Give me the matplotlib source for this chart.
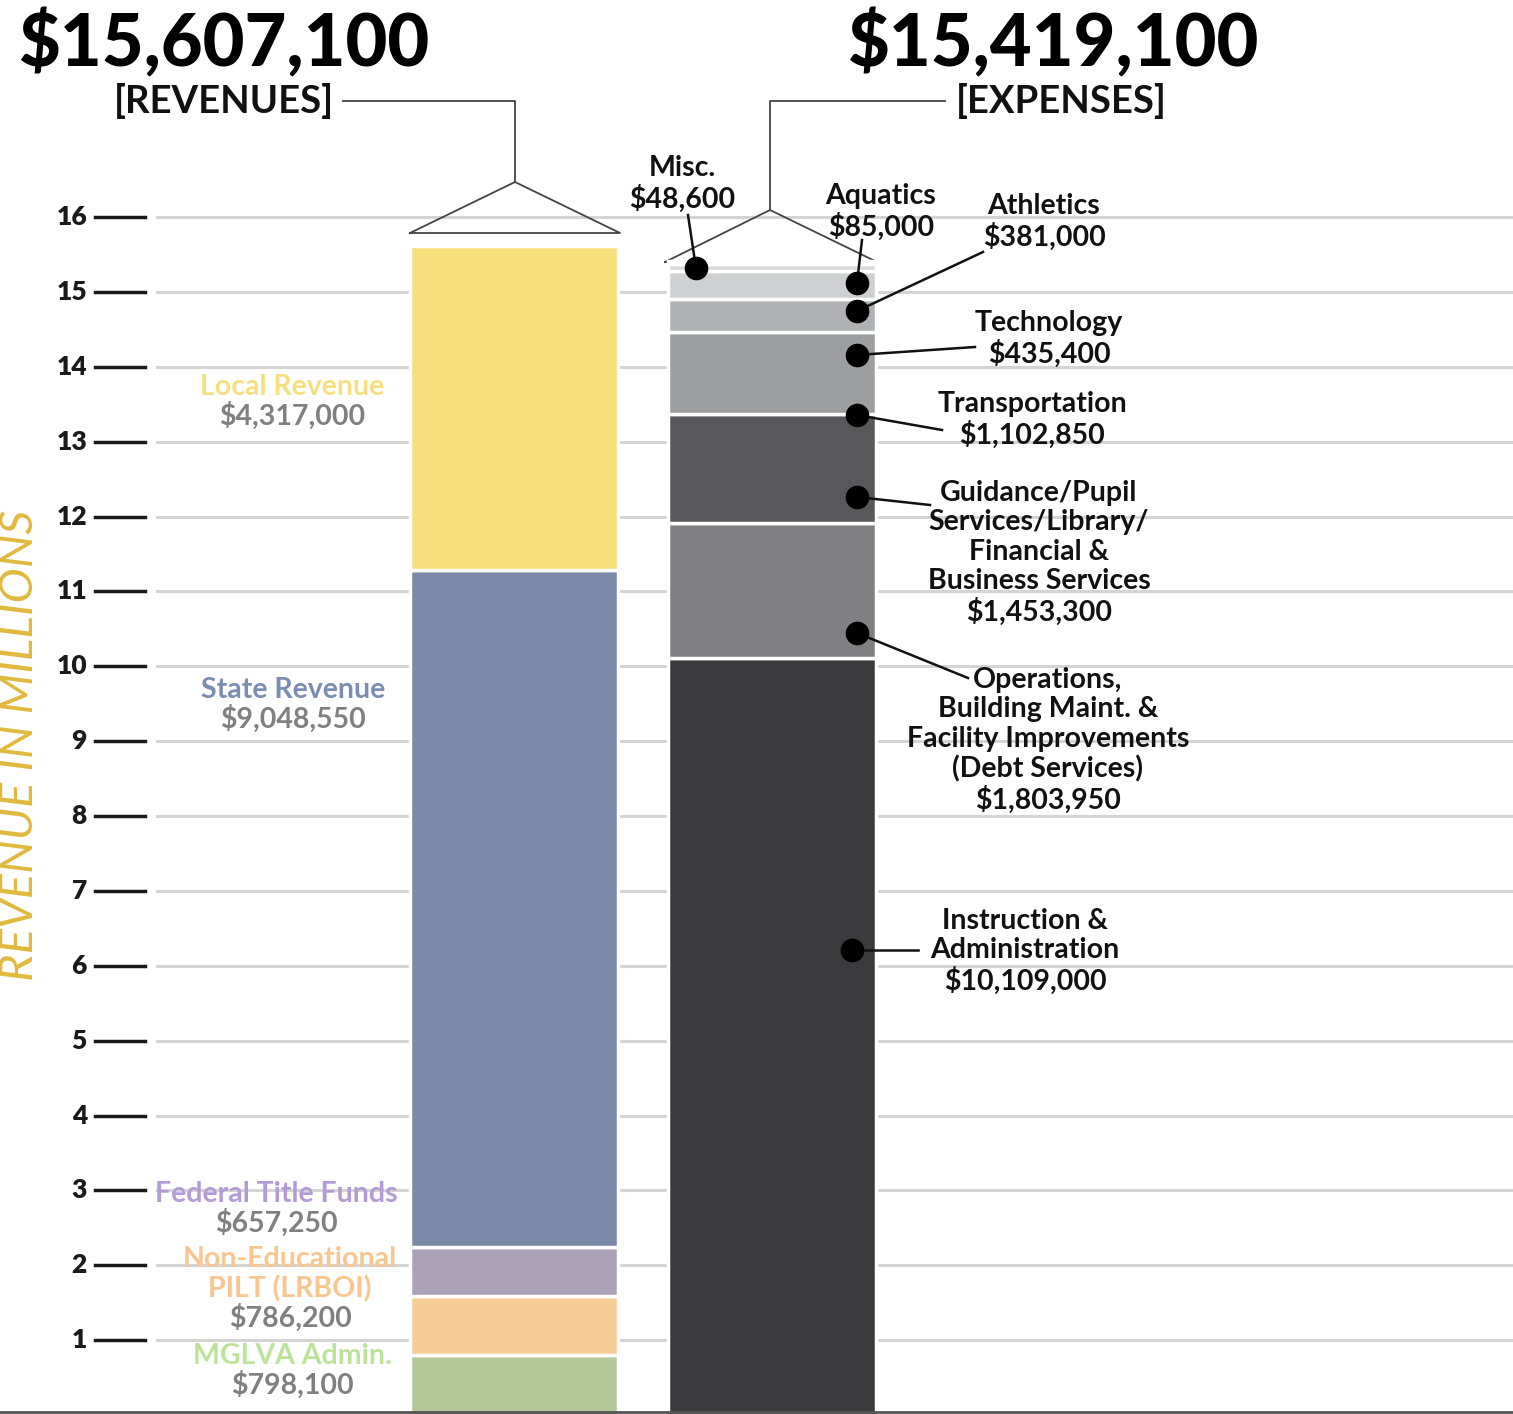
import numpy as np
import matplotlib.pyplot as plt

# Revenue pieces, bottom to top (dollars)
rev_names = ["MGLVA Admin.", "Non-Educational\nPILT (LRBOI)", "Federal Title Funds",
             "State Revenue", "Local Revenue"]
rev_values = [798100, 786200, 657250, 9048550, 4317000]
rev_labels = ["$798,100", "$786,200", "$657,250", "$9,048,550", "$4,317,000"]

# Expense pieces, bottom to top (dollars)
exp_names = ["Instruction &\nAdministration",
             "Operations,\nBuilding Maint. &\nFacility Improvements\n(Debt Services)",
             "Guidance/Pupil\nServices/Library/\nFinancial &\nBusiness Services",
             "Transportation", "Technology", "Athletics", "Aquatics", "Misc."]
exp_values = [10109000, 1803950, 1453300, 1102850, 435400, 381000, 85000, 48600]
exp_labels = ["$10,109,000", "$1,803,950", "$1,453,300", "$1,102,850",
              "$435,400", "$381,000", "$85,000", "$48,600"]

rev_total = "$15,607,100"
exp_total = "$15,419,100"
yticks = list(range(1, 17))

# styling
rev_colors = ["#b3c799", "#f6cc97", "#aca2b7", "#7a8aa8", "#f5df7c"]
rev_name_colors = ["#bde39a", "#f8c68e", "#b39bd6", "#7b8eb1", "#f6df7f"]
exp_colors = ["#3a3a3c", "#808083", "#58585a", "#9d9ea0", "#b0b1b3",
              "#cfd0d2", "#d8d9da", "#e6e6e7"]

W, H = 1513, 1414
S = 74.87          # pixels per million
Y0 = 1415          # pixel row of zero


def v(py):
    # pixel row -> value in millions
    return (Y0 - py) / S


plt.rcParams['font.family'] = ['Lato', 'DejaVu Sans']
fig = plt.figure(figsize=(W / 100, H / 100), dpi=100)
ax = fig.add_axes([0, 0, 1, 1])
ax.set_xlim(0, W)
ax.set_ylim(v(H), v(0))
ax.axis("off")

# grid + ticks
for t in yticks:
    ax.plot([157, W], [t, t], color="#d4d4d4", lw=2.2, zorder=1)
    ax.plot([95, 145], [t, t], color="#1a1a1a", lw=2.5, zorder=1)
    ax.text(87, t, str(t), ha="right", va="center", fontsize=19,
            fontweight="heavy", color="#1a1a1a")
ax.plot([0, W], [v(1412), v(1412)], color="#555555", lw=2, zorder=5)

ax.text(20, v(745), "REVENUE IN MILLIONS", rotation=90, ha="center", va="center",
        fontsize=34, fontstyle="italic", fontweight="normal", color="#e2b93e")

# stacked bars
bw = 208
rx, ex = 514, 772
ax.bar([rx] * len(rev_values), np.array(rev_values) / 1e6, width=bw,
       bottom=np.concatenate([[0], np.cumsum(rev_values)[:-1]]) / 1e6,
       color=rev_colors, edgecolor="white", linewidth=2.5, zorder=3)
exp_bottoms = np.concatenate([[0], np.cumsum(exp_values)[:-1]]) / 1e6
ax.bar([ex] * len(exp_values), np.array(exp_values) / 1e6, width=bw,
       bottom=exp_bottoms, color=exp_colors, edgecolor="white",
       linewidth=2.5, zorder=3)

# revenue labels (name in colour, amount in gray)
rev_pos = [(292, 1356), (290, 1259), (276, 1194), (293, 690), (292, 387)]
for name, lab, col, (px, py) in zip(rev_names, rev_labels, rev_name_colors, rev_pos):
    n = name.count("\n") + 1
    for i, line in enumerate(name.split("\n")):
        ax.text(px, v(py + 30 * i), line, ha="center", va="center", fontsize=20.5,
                fontweight="bold", color=col, zorder=6)
    ax.text(px, v(py + 30 * n - 1), lab, ha="center", va="center", fontsize=20.5,
            fontweight="bold", color="#808080", zorder=6)

# expense labels with dots and leader lines
exp_text = [(1025, 921), (1048, 680), (1039, 493), (1032, 404), (1049, 323),
            (1044, 206), (881, 196), (682, 168)]
dots = [(852, 950), (857, 633), (857, 497), (857, 415), (857, 355),
        (857, 311), (857, 283), (696, 268)]
ends = [(918, 950), (968, 678), (930, 505), (942, 430), (975, 347),
        (983, 252), (862, 240), (688, 215)]
for name, lab, (tx, ty), (dx, dy), (lx, ly) in zip(exp_names, exp_labels,
                                                      exp_text, dots, ends):
    txt = name + "\n" + lab
    ax.text(tx, v(ty - 13), txt, ha="center", va="top", fontsize=20.5,
            fontweight="bold", color="#111111", linespacing=1.16, zorder=6)
    ax.plot([dx, lx], [v(dy), v(ly)], color="#111111", lw=1.8, zorder=5)
    ax.plot(dx, v(dy), "o", color="black", markersize=16, zorder=6)

# headline totals and brackets
ax.text(18, v(44), rev_total, ha="left", va="center", fontsize=52,
        fontweight="black", color="black")
ax.text(224, v(101), "[REVENUES]", ha="center", va="center", fontsize=27.5,
        fontweight="bold", color="#111111")
ax.text(1053, v(44), exp_total, ha="center", va="center", fontsize=52,
        fontweight="black", color="black")
ax.text(1061, v(101), "[EXPENSES]", ha="center", va="center", fontsize=27.5,
        fontweight="bold", color="#111111")

bc = "#444444"
ax.plot([343, 515, 515], [v(101), v(101), v(182)], color=bc, lw=1.3)
ax.plot([410, 515, 620, 410], [v(233), v(182), v(233), v(233)], color=bc, lw=1.3)
ax.plot([945, 770, 770], [v(101), v(101), v(210)], color=bc, lw=1.3)
ax.plot([665, 770, 877, 665], [v(262), v(210), v(262), v(262)], color=bc, lw=1.3)

fig.savefig("out.png", dpi=100)
